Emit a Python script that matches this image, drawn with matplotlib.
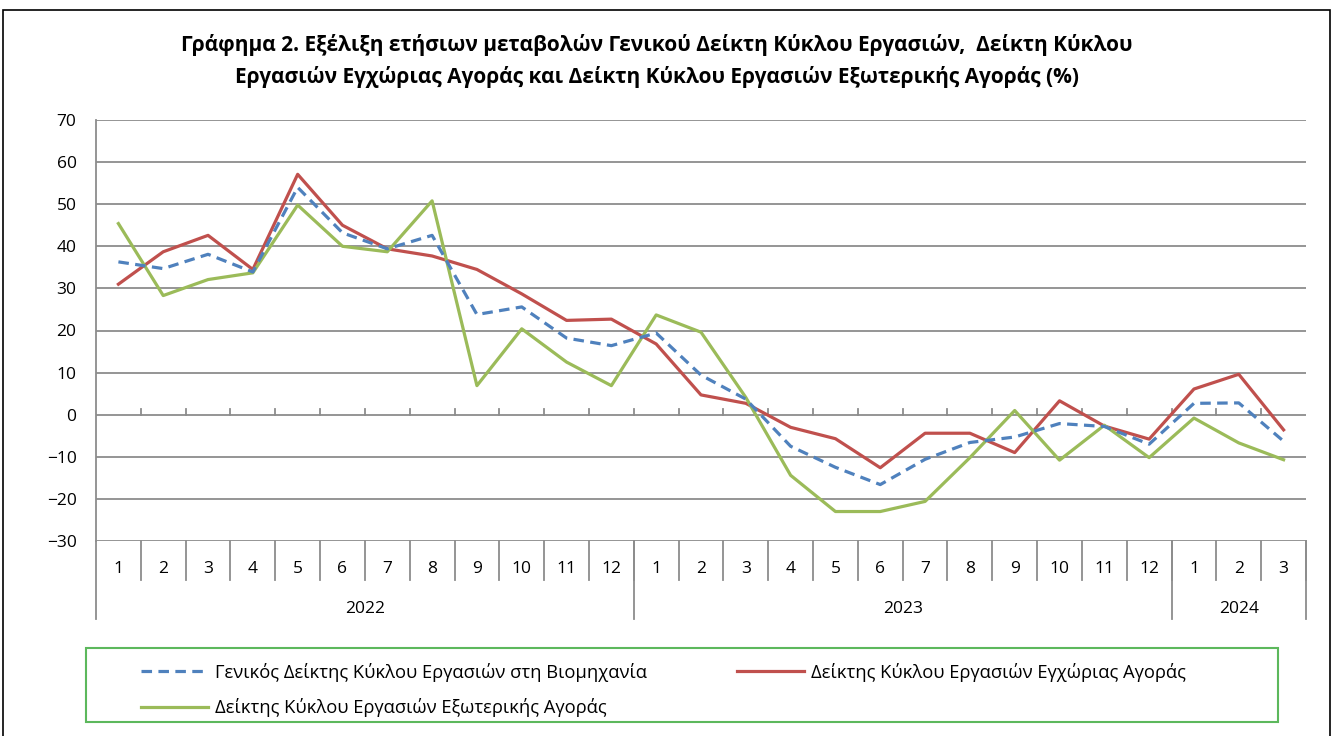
import matplotlib.pyplot as plt
from matplotlib.patches import Rectangle
from matplotlib.lines import Line2D
import matplotlib.transforms as mtransforms

plt.rcParams["font.family"] = ["Open Sans", "DejaVu Sans"]

months = [str(m) for m in range(1, 13)] + [str(m) for m in range(1, 13)] + ["1", "2", "3"]
years = ["2022", "2023", "2024"]
year_len = [12, 12, 3]

general = [36.3, 34.7, 38.1, 33.9, 54.0, 43.2, 39.4, 42.6, 23.8, 25.6, 18.2, 16.4,
           19.4, 9.4, 3.7, -7.5, -12.5, -16.6, -10.6, -6.6, -5.3, -2.1, -2.8, -7.0,
           2.7, 2.8, -6.3]
domestic = [31.0, 38.7, 42.6, 34.5, 57.1, 45.0, 39.4, 37.7, 34.5, 28.7, 22.4, 22.7,
            16.8, 4.7, 2.7, -3.0, -5.7, -12.6, -4.4, -4.4, -9.0, 3.3, -2.7, -5.8,
            6.1, 9.6, -3.6]
foreign = [45.4, 28.3, 32.1, 33.7, 49.8, 40.0, 38.7, 50.8, 6.9, 20.4, 12.5, 6.9,
           23.7, 19.6, 4.1, -14.4, -23.0, -23.0, -20.6, -10.2, 1.0, -10.8, -2.5, -10.2,
           -0.8, -6.7, -10.7]

labels = [
    "Γενικός Δείκτης Κύκλου Εργασιών στη Βιομηχανία",
    "Δείκτης Κύκλου Εργασιών Εγχώριας Αγοράς",
    "Δείκτης Κύκλου Εργασιών Εξωτερικής Αγοράς",
]
title = ("Γράφημα 2. Εξέλιξη ετήσιων μεταβολών Γενικού Δείκτη Κύκλου Εργασιών,  Δείκτη Κύκλου\n"
         "Εργασιών Εγχώριας Αγοράς και Δείκτη Κύκλου Εργασιών Εξωτερικής Αγοράς (%)")

W, H = 1333, 736
GRID = "#8c8c8c"


def fx(px):
    return px / W


def fy(py):
    return 1 - py / H


fig = plt.figure(figsize=(W / 100, H / 100), dpi=100)
ax = fig.add_axes([fx(96), fy(541), fx(1306) - fx(96), fy(120) - fy(541)])

x = list(range(len(months)))
ax.plot(x, general, color="#4f81bd", lw=2.3, dashes=(3.3, 2.0), zorder=4)
ax.plot(x, domestic, color="#c0504d", lw=2.3, zorder=3)
ax.plot(x, foreign, color="#9bbb59", lw=2.3, zorder=3)

ax.set_xlim(-0.5, len(months) - 0.5)
ax.set_ylim(-30, 70)
ax.set_yticks(range(-30, 71, 10))
ax.yaxis.grid(True, color=GRID, lw=1.3)
ax.set_axisbelow(True)
ax.tick_params(axis="y", length=0, pad=14, labelsize=12.5)
ax.set_xticks([])
for s in ["top", "right", "bottom"]:
    ax.spines[s].set_visible(False)
ax.spines["left"].set_color(GRID)
ax.spines["left"].set_linewidth(1.3)

# small tick marks on the zero line
for k in range(1, len(months)):
    ax.plot([k - 0.5, k - 0.5], [0, 1.3], color=GRID, lw=1.3, zorder=2)

# category axis below the plot
trans = mtransforms.blended_transform_factory(ax.transData, ax.transAxes)
ax_h = 421
for i, m in enumerate(months):
    ax.text(i, -(569 - 541) / ax_h, m, transform=trans, ha="center", va="center",
            fontsize=12.5)
for k in range(1, len(months) + 1):
    ax.plot([k - 0.5, k - 0.5], [0, -(580 - 541) / ax_h], transform=trans,
            color=GRID, lw=1.3, clip_on=False)
start = 0
ax.plot([-0.5, -0.5], [0, -(619 - 541) / ax_h], transform=trans, color=GRID,
        lw=1.3, clip_on=False)
for yr, n in zip(years, year_len):
    ax.text(start + (n - 1) / 2, -(609 - 541) / ax_h, yr, transform=trans,
            ha="center", va="center", fontsize=12.5)
    end = start + n - 0.5
    ax.plot([end, end], [0, -(619 - 541) / ax_h], transform=trans, color=GRID,
            lw=1.3, clip_on=False)
    start += n

fig.text(fx(657), fy(61), title, ha="center", va="center", fontsize=15,
         fontweight="bold", linespacing=1.55)

# legend frame and entries
fig.patches.append(Rectangle((fx(86), fy(722)), fx(1278) - fx(86), fy(648) - fy(722),
                             transform=fig.transFigure, fill=False,
                             edgecolor="#5cb85c", lw=1.5))
handles = [
    Line2D([], [], color="#4f81bd", lw=2.3, dashes=(3.3, 2.0)),
    Line2D([], [], color="#9bbb59", lw=2.3),
    Line2D([], [], color="#c0504d", lw=2.3),
]
fig.legend(handles, [labels[0], labels[2], labels[1]], ncol=2, frameon=False,
           loc="upper left", bbox_to_anchor=(fx(126.5), fy(648)), fontsize=13.2,
           handlelength=3.65, handletextpad=0.38, labelspacing=0.9,
           columnspacing=4.9, borderpad=0.3)

# outer border
fig.patches.append(Rectangle((fx(3), fy(740)), fx(1330) - fx(3), fy(10) - fy(740),
                             transform=fig.transFigure, fill=False,
                             edgecolor="black", lw=1.2, clip_on=False))

fig.savefig("out.png", dpi=100)
